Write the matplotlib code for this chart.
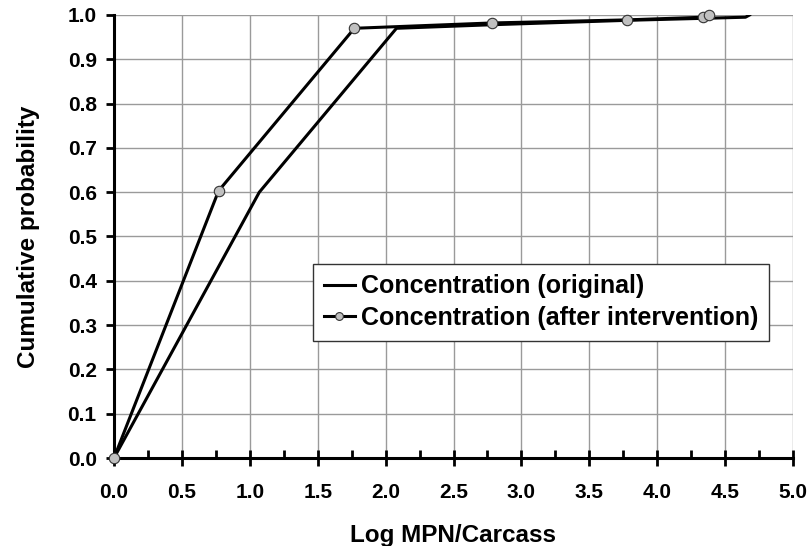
import matplotlib
matplotlib.use("Agg")
import matplotlib.pyplot as plt
from matplotlib.ticker import MultipleLocator

plt.rcParams['font.family'] = ['Liberation Sans', 'DejaVu Sans']
plt.rcParams['font.weight'] = 'bold'

orig_x = [0.0, 1.07, 2.08, 2.78, 3.78, 4.65, 4.68]
orig_y = [0.0, 0.60, 0.97, 0.978, 0.988, 0.995, 1.0]
after_x = [0.0, 0.77, 1.77, 2.78, 3.78, 4.34, 4.38]
after_y = [0.0, 0.603, 0.97, 0.982, 0.989, 0.995, 1.0]

fig = plt.figure(figsize=(8.1, 5.46), dpi=100)
ax = fig.add_axes([114/810, 1-458/546, (793-114)/810, (458-15)/546])

ax.plot(orig_x, orig_y, color='black', lw=2.2, label='Concentration (original)', zorder=3)
ax.plot(after_x, after_y, color='black', lw=2.2, marker='o', markersize=7.5,
        markerfacecolor='#c0c0c0', markeredgecolor='#333333', markeredgewidth=0.8,
        label='Concentration (after intervention)', zorder=4, clip_on=False)

ax.set_xlim(0, 5)
ax.set_ylim(0, 1)
ax.xaxis.set_major_locator(MultipleLocator(0.5))
ax.xaxis.set_minor_locator(MultipleLocator(0.25))
ax.yaxis.set_major_locator(MultipleLocator(0.1))
ax.xaxis.set_major_formatter(plt.FormatStrFormatter('%.1f'))
ax.yaxis.set_major_formatter(plt.FormatStrFormatter('%.1f'))

ax.grid(True, which='major', color='#9a9a9a', lw=1.0)
ax.set_axisbelow(True)
for s in ['top', 'right']:
    ax.spines[s].set_visible(False)
for s in ['left', 'bottom']:
    ax.spines[s].set_linewidth(2.2)
    ax.spines[s].set_color('black')

ax.tick_params(axis='x', which='major', direction='inout', length=12, width=2, labelsize=15, pad=12)
ax.tick_params(axis='x', which='minor', direction='in', length=6, width=2)
ax.tick_params(axis='y', which='major', direction='out', length=5.5, width=2, labelsize=15, pad=7)
for lab in ax.get_xticklabels() + ax.get_yticklabels():
    lab.set_fontweight('bold')

ax.set_xlabel('Log MPN/Carcass', fontsize=17.5, fontweight='bold', labelpad=16)
ax.set_ylabel('Cumulative probability', fontsize=17.5, fontweight='bold', labelpad=20)

leg = ax.legend(loc='upper left', bbox_to_anchor=((313-114)/679, (458-264)/443),
                prop={'size': 18, 'weight': 'bold'}, frameon=True, fancybox=False,
                framealpha=1, edgecolor='#333333', handlelength=1.25, handletextpad=0.25,
                borderpad=0.42, labelspacing=0.3, borderaxespad=0, markerscale=0.75)
leg.get_frame().set_linewidth(1.0)

fig.savefig('out.png', dpi=100)
